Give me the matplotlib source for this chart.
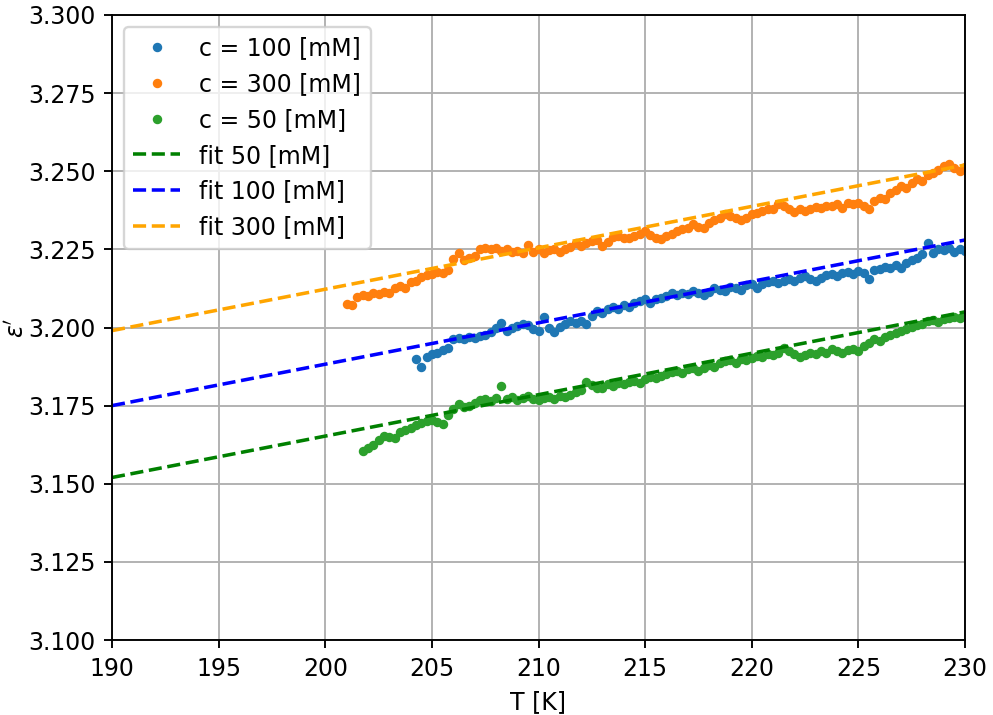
import matplotlib
matplotlib.use('Agg')
import matplotlib.pyplot as plt
from matplotlib.ticker import MultipleLocator
import numpy as np

# measured points (T [K], eps')
data_100 = [
    (204.25, 3.1900), (204.5, 3.1874), (204.75, 3.1905), (205.0, 3.1915), (205.25, 3.1920),
    (205.5, 3.1928), (205.75, 3.1935), (206.0, 3.1962), (206.25, 3.1968), (206.5, 3.1962),
    (206.75, 3.1970), (207.0, 3.1966), (207.25, 3.1972), (207.5, 3.1975), (207.75, 3.1985),
    (208.0, 3.2000), (208.25, 3.2015), (208.5, 3.1990), (208.75, 3.1998), (209.0, 3.2005),
    (209.25, 3.2010), (209.5, 3.2008), (209.75, 3.1995), (210.0, 3.1990), (210.25, 3.2034),
    (210.5, 3.1998), (210.75, 3.1985), (211.0, 3.2002), (211.25, 3.2010), (211.5, 3.2020),
    (211.75, 3.2015), (212.0, 3.2022), (212.25, 3.2012), (212.5, 3.2038), (212.75, 3.2052),
    (213.0, 3.2045), (213.25, 3.2058), (213.5, 3.2066), (213.75, 3.2060), (214.0, 3.2072),
    (214.25, 3.2065), (214.5, 3.2078), (214.75, 3.2085), (215.0, 3.2090), (215.25, 3.2080),
    (215.5, 3.2092), (215.75, 3.2095), (216.0, 3.2100), (216.25, 3.2110), (216.5, 3.2105),
    (216.75, 3.2112), (217.0, 3.2108), (217.25, 3.2118), (217.5, 3.2112), (217.75, 3.2105),
    (218.0, 3.2115), (218.25, 3.2125), (218.5, 3.2120), (218.75, 3.2118), (219.0, 3.2130),
    (219.25, 3.2128), (219.5, 3.2120), (219.75, 3.2135), (220.0, 3.2140), (220.25, 3.2128),
    (220.5, 3.2138), (220.75, 3.2145), (221.0, 3.2148), (221.25, 3.2142), (221.5, 3.2150),
    (221.75, 3.2155), (222.0, 3.2150), (222.25, 3.2158), (222.5, 3.2165), (222.75, 3.2155),
    (223.0, 3.2148), (223.25, 3.2160), (223.5, 3.2168), (223.75, 3.2172), (224.0, 3.2165),
    (224.25, 3.2175), (224.5, 3.2178), (224.75, 3.2170), (225.0, 3.2182), (225.25, 3.2175),
    (225.5, 3.2155), (225.75, 3.2185), (226.0, 3.2188), (226.25, 3.2195), (226.5, 3.2190),
    (226.75, 3.2200), (227.0, 3.2192), (227.25, 3.2208), (227.5, 3.2215), (227.75, 3.2222),
    (228.0, 3.2235), (228.25, 3.2270), (228.5, 3.2240), (228.75, 3.2250), (229.0, 3.2248),
    (229.25, 3.2255), (229.5, 3.2242), (229.75, 3.2250), (230.0, 3.2245),
]

data_300 = [
    (201.0, 3.2075), (201.25, 3.2072), (201.5, 3.2098), (201.75, 3.2105), (202.0, 3.2102),
    (202.25, 3.2112), (202.5, 3.2108), (202.75, 3.2115), (203.0, 3.2110), (203.25, 3.2125),
    (203.5, 3.2132), (203.75, 3.2128), (204.0, 3.2145), (204.25, 3.2150), (204.5, 3.2162),
    (204.75, 3.2168), (205.0, 3.2172), (205.25, 3.2178), (205.5, 3.2176), (205.75, 3.2183),
    (206.0, 3.2218), (206.25, 3.2240), (206.5, 3.2216), (206.75, 3.2222), (207.0, 3.2230),
    (207.25, 3.2252), (207.5, 3.2255), (207.75, 3.2250), (208.0, 3.2256), (208.25, 3.2246),
    (208.5, 3.2250), (208.75, 3.2243), (209.0, 3.2246), (209.25, 3.2238), (209.5, 3.2265),
    (209.75, 3.2242), (210.0, 3.2250), (210.25, 3.2240), (210.5, 3.2248), (210.75, 3.2252),
    (211.0, 3.2243), (211.25, 3.2250), (211.5, 3.2258), (211.75, 3.2270), (212.0, 3.2262),
    (212.25, 3.2272), (212.5, 3.2276), (212.75, 3.2280), (213.0, 3.2262), (213.25, 3.2275),
    (213.5, 3.2290), (213.75, 3.2292), (214.0, 3.2288), (214.25, 3.2285), (214.5, 3.2292),
    (214.75, 3.2300), (215.0, 3.2308), (215.25, 3.2295), (215.5, 3.2288), (215.75, 3.2282),
    (216.0, 3.2292), (216.25, 3.2298), (216.5, 3.2310), (216.75, 3.2315), (217.0, 3.2320),
    (217.25, 3.2330), (217.5, 3.2322), (217.75, 3.2318), (218.0, 3.2335), (218.25, 3.2345),
    (218.5, 3.2350), (218.75, 3.2362), (219.0, 3.2358), (219.25, 3.2352), (219.5, 3.2345),
    (219.75, 3.2350), (220.0, 3.2362), (220.25, 3.2365), (220.5, 3.2372), (220.75, 3.2380),
    (221.0, 3.2378), (221.25, 3.2395), (221.5, 3.2388), (221.75, 3.2380), (222.0, 3.2370),
    (222.25, 3.2378), (222.5, 3.2372), (222.75, 3.2380), (223.0, 3.2385), (223.25, 3.2382),
    (223.5, 3.2390), (223.75, 3.2388), (224.0, 3.2395), (224.25, 3.2382), (224.5, 3.2400),
    (224.75, 3.2395), (225.0, 3.2398), (225.25, 3.2390), (225.5, 3.2380), (225.75, 3.2405),
    (226.0, 3.2415), (226.25, 3.2412), (226.5, 3.2430), (226.75, 3.2440), (227.0, 3.2452),
    (227.25, 3.2448), (227.5, 3.2462), (227.75, 3.2475), (228.0, 3.2470), (228.25, 3.2488),
    (228.5, 3.2495), (228.75, 3.2505), (229.0, 3.2518), (229.25, 3.2522), (229.5, 3.2510),
    (229.75, 3.2500), (230.0, 3.2515),
]

data_50 = [
    (201.75, 3.1605), (202.0, 3.1614), (202.25, 3.1625), (202.5, 3.1640), (202.75, 3.1652),
    (203.0, 3.1650), (203.25, 3.1648), (203.5, 3.1665), (203.75, 3.1672), (204.0, 3.1680),
    (204.25, 3.1688), (204.5, 3.1695), (204.75, 3.1702), (205.0, 3.1705), (205.25, 3.1698),
    (205.5, 3.1690), (205.75, 3.1720), (206.0, 3.1738), (206.25, 3.1755), (206.5, 3.1745),
    (206.75, 3.1750), (207.0, 3.1760), (207.25, 3.1768), (207.5, 3.1772), (207.75, 3.1765),
    (208.0, 3.1775), (208.25, 3.1812), (208.5, 3.1770), (208.75, 3.1778), (209.0, 3.1768),
    (209.25, 3.1775), (209.5, 3.1780), (209.75, 3.1772), (210.0, 3.1768), (210.25, 3.1775),
    (210.5, 3.1778), (210.75, 3.1770), (211.0, 3.1780), (211.25, 3.1778), (211.5, 3.1785),
    (211.75, 3.1795), (212.0, 3.1800), (212.25, 3.1825), (212.5, 3.1815), (212.75, 3.1808),
    (213.0, 3.1805), (213.25, 3.1818), (213.5, 3.1812), (213.75, 3.1822), (214.0, 3.1818),
    (214.25, 3.1825), (214.5, 3.1830), (214.75, 3.1822), (215.0, 3.1835), (215.25, 3.1842),
    (215.5, 3.1838), (215.75, 3.1845), (216.0, 3.1852), (216.25, 3.1858), (216.5, 3.1862),
    (216.75, 3.1855), (217.0, 3.1868), (217.25, 3.1872), (217.5, 3.1862), (217.75, 3.1870),
    (218.0, 3.1880), (218.25, 3.1875), (218.5, 3.1885), (218.75, 3.1892), (219.0, 3.1895),
    (219.25, 3.1888), (219.5, 3.1900), (219.75, 3.1895), (220.0, 3.1902), (220.25, 3.1908),
    (220.5, 3.1905), (220.75, 3.1915), (221.0, 3.1912), (221.25, 3.1920), (221.5, 3.1935),
    (221.75, 3.1925), (222.0, 3.1915), (222.25, 3.1905), (222.5, 3.1912), (222.75, 3.1920),
    (223.0, 3.1915), (223.25, 3.1925), (223.5, 3.1918), (223.75, 3.1930), (224.0, 3.1925),
    (224.25, 3.1920), (224.5, 3.1928), (224.75, 3.1932), (225.0, 3.1925), (225.25, 3.1940),
    (225.5, 3.1950), (225.75, 3.1962), (226.0, 3.1958), (226.25, 3.1970), (226.5, 3.1975),
    (226.75, 3.1982), (227.0, 3.1990), (227.25, 3.1995), (227.5, 3.2002), (227.75, 3.2008),
    (228.0, 3.2012), (228.25, 3.2020), (228.5, 3.2025), (228.75, 3.2018), (229.0, 3.2028),
    (229.25, 3.2030), (229.5, 3.2035), (229.75, 3.2032), (230.0, 3.2040),
]

# linear fits, evaluated at the ends of the axis
fit_T = [190, 230]
fit_50 = [3.152, 3.205]
fit_100 = [3.175, 3.228]
fit_300 = [3.199, 3.252]

T100, e100 = np.array(data_100).T
T300, e300 = np.array(data_300).T
T50, e50 = np.array(data_50).T

dpi = 170
fig = plt.figure(figsize=(993/dpi, 715/dpi), dpi=dpi)
ax = fig.add_axes([112/993, 1-640/715, (965-112)/993, (640-15)/715])

ax.plot(T100, e100, '.', label='c = 100 [mM]')
ax.plot(T300, e300, '.', label='c = 300 [mM]')
ax.plot(T50, e50, '.', label='c = 50 [mM]')
ax.plot(fit_T, fit_50, '--', color='green', label='fit 50 [mM]')
ax.plot(fit_T, fit_100, '--', color='blue', label='fit 100 [mM]')
ax.plot(fit_T, fit_300, '--', color='orange', label='fit 300 [mM]')

ax.set_xlim(190, 230)
ax.set_ylim(3.1, 3.3)
ax.yaxis.set_major_locator(MultipleLocator(0.025))
ax.set_xlabel('T [K]')
ax.set_ylabel(r"$\epsilon'$")
ax.yaxis.set_label_coords(-0.098, 0.5)  # keep it inside the canvas
ax.grid(True)
ax.legend(loc='upper left')

plt.savefig('out.png', dpi=dpi)
